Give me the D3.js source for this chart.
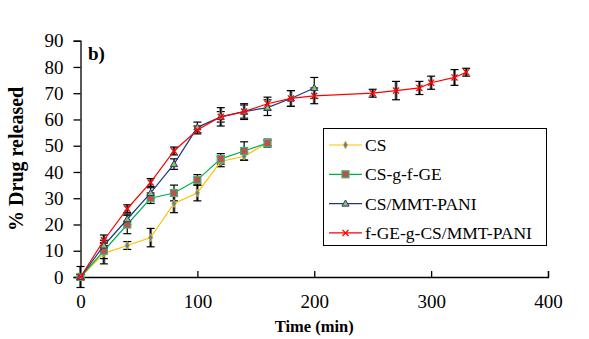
<!DOCTYPE html>
<html>
<head>
<meta charset="UTF-8">
<title>Drug release profile</title>
<script src="https://cdn.jsdelivr.net/npm/d3@7/dist/d3.min.js"></script>
<style>
  body { margin: 0; background: #fff; }
  svg text { font-family: "Times New Roman", "Liberation Serif", serif; }
</style>
</head>
<body>
<svg id="chart" width="589" height="339"></svg>
<script>
// release time points (min)
var tShort = [0, 20, 40, 60, 80, 100, 120, 140, 160]
var tMid = [0, 20, 40, 60, 80, 100, 120, 140, 160, 180, 200]
var tLong = [0, 20, 40, 60, 80, 100, 120, 140, 160, 180, 200, 250, 270, 290, 300, 320, 330]

// cumulative release (%) and +/- error
var csVals = [0, 9, 12, 15, 28, 32, 44, 46, 51]
var csErr = [1, 4, 1.5, 3.5, 3.5, 3, 2, 1.5, 1]
var gfVals = [0, 10, 20, 30, 32, 37, 45, 48, 51]
var gfErr = [1, 3, 3.5, 2, 3, 2, 2, 3.5, 1.5]
var mmtVals = [0, 12, 22, 32, 43, 57, 61, 63, 64.5, 68, 72]
var mmtErr = [1, 2, 2, 2, 2, 2, 2, 2.5, 3, 3, 4]
var hybVals = [0, 14, 26, 36, 48, 56, 61, 63, 66, 68, 69, 70, 71, 72, 74, 76, 78]
var hybErr = [4, 2, 1.5, 1.5, 1.5, 1.5, 3.5, 3, 2.5, 3, 3, 1.5, 3.5, 2.5, 2.5, 3, 1.5]

var xTicks = [0, 100, 200, 300, 400]
var yTicks = [0, 10, 20, 30, 40, 50, 60, 70, 80, 90]

var series = [
  { name: "CS", t: tShort, v: csVals, e: csErr, line: "#FFC000", marker: "diamond" },
  { name: "CS-g-f-GE", t: tShort, v: gfVals, e: gfErr, line: "#00B050", marker: "square" },
  { name: "CS/MMT-PANI", t: tMid, v: mmtVals, e: mmtErr, line: "#1F3A78", marker: "triangle" },
  { name: "f-GE-g-CS/MMT-PANI", t: tLong, v: hybVals, e: hybErr, line: "#FF0000", marker: "cross" }
]

var svg = d3.select("#chart")
var x = d3.scaleLinear().domain([0, 400]).range([80.5, 548])
var y = d3.scaleLinear().domain([0, 90]).range([277, 40.7])

// axes
var yAxis = d3.axisLeft(y).tickValues(yTicks).tickSize(7).tickPadding(10)
var gy = svg.append("g").attr("transform", "translate(" + x(0) + ",0)").call(yAxis)
var xAxis = d3.axisBottom(x).tickValues(xTicks).tickSize(-6).tickPadding(18)
var gx = svg.append("g").attr("transform", "translate(0," + y(0) + ")").call(xAxis)
;[gx, gy].forEach(function (g) {
  g.attr("font-family", null)
  g.select(".domain").attr("stroke", "#000").attr("stroke-width", 1.3)
  g.selectAll(".tick line").attr("stroke", "#000").attr("stroke-width", 1.3)
  g.selectAll(".tick text").attr("fill", "#000").style("font-size", "19px")
})

// error bars: grey band under black capped whiskers
series.forEach(function (s) {
  var g = svg.append("g")
  s.t.forEach(function (t, i) {
    var cx = x(t), lo = y(s.v[i] - s.e[i]), hi = y(s.v[i] + s.e[i])
    if (s.marker === "cross" || s.marker === "diamond") {
      g.append("line").attr("x1", cx).attr("x2", cx).attr("y1", lo).attr("y2", hi)
        .attr("stroke", "#7f7f7f").attr("stroke-width", 3)
    }
    g.append("line").attr("x1", cx).attr("x2", cx).attr("y1", lo).attr("y2", hi)
      .attr("stroke", "#000").attr("stroke-width", 1.2)
    ;[lo, hi].forEach(function (yy) {
      g.append("line").attr("x1", cx - 4).attr("x2", cx + 4).attr("y1", yy).attr("y2", yy)
        .attr("stroke", "#000").attr("stroke-width", 1.2)
    })
  })
})

function drawMarker(g, kind, cx, cy, color) {
  if (kind === "diamond") {
    g.append("path").attr("d", d3.symbol(d3.symbolDiamond, 18)()).attr("transform", "translate(" + cx + "," + cy + ")")
      .attr("fill", "#4F81BD").attr("stroke", color).attr("stroke-width", 0.8)
  } else if (kind === "square") {
    g.append("rect").attr("x", cx - 3.5).attr("y", cy - 3.5).attr("width", 7).attr("height", 7)
      .attr("fill", "#C0504D").attr("stroke", "#3CB371").attr("stroke-width", 1.2)
  } else if (kind === "triangle") {
    g.append("path").attr("d", d3.symbol(d3.symbolTriangle, 22)()).attr("transform", "translate(" + cx + "," + (cy + 0.5) + ")")
      .attr("fill", "#9BBB59").attr("stroke", color).attr("stroke-width", 1)
  } else {
    g.append("path").attr("d", d3.symbol(d3.symbolX, 26)()).attr("transform", "translate(" + cx + "," + cy + ")")
      .attr("fill", "none").attr("stroke", color).attr("stroke-width", 1.3)
  }
}

// series lines and markers
var line = d3.line().x(function (d) { return x(d[0]) }).y(function (d) { return y(d[1]) })
series.forEach(function (s) {
  var pts = s.t.map(function (t, i) { return [t, s.v[i]] })
  svg.append("path").attr("d", line(pts)).attr("fill", "none")
    .attr("stroke", s.line).attr("stroke-width", 1.2)
  var g = svg.append("g")
  pts.forEach(function (p) { drawMarker(g, s.marker, x(p[0]), y(p[1]), s.line) })
})

// titles
svg.append("text").attr("x", 88).attr("y", 60).text("b)")
  .style("font-size", "19px").style("font-weight", "bold")
svg.append("text").attr("transform", "translate(23," + ((40.7 + 277) / 2) + ") rotate(-90)")
  .attr("text-anchor", "middle").text("% Drug released")
  .style("font-size", "20px").style("font-weight", "bold")
svg.append("text").attr("x", (80.5 + 548) / 2).attr("y", 332).attr("text-anchor", "middle")
  .text("Time (min)").style("font-size", "16.5px").style("font-weight", "bold")

// legend
var leg = svg.append("g")
leg.append("rect").attr("x", 323.5).attr("y", 128.5).attr("width", 223).attr("height", 117)
  .attr("fill", "#fff").attr("stroke", "#000").attr("stroke-width", 1)
series.forEach(function (s, i) {
  var ly = 145 + i * 29.3
  leg.append("line").attr("x1", 329).attr("x2", 362).attr("y1", ly).attr("y2", ly)
    .attr("stroke", s.line).attr("stroke-width", 1.2)
  drawMarker(leg, s.marker, 345.5, ly, s.line)
  leg.append("text").attr("x", 365).attr("y", ly + 6).text(s.name).style("font-size", "17.5px")
})
</script>
</body>
</html>
